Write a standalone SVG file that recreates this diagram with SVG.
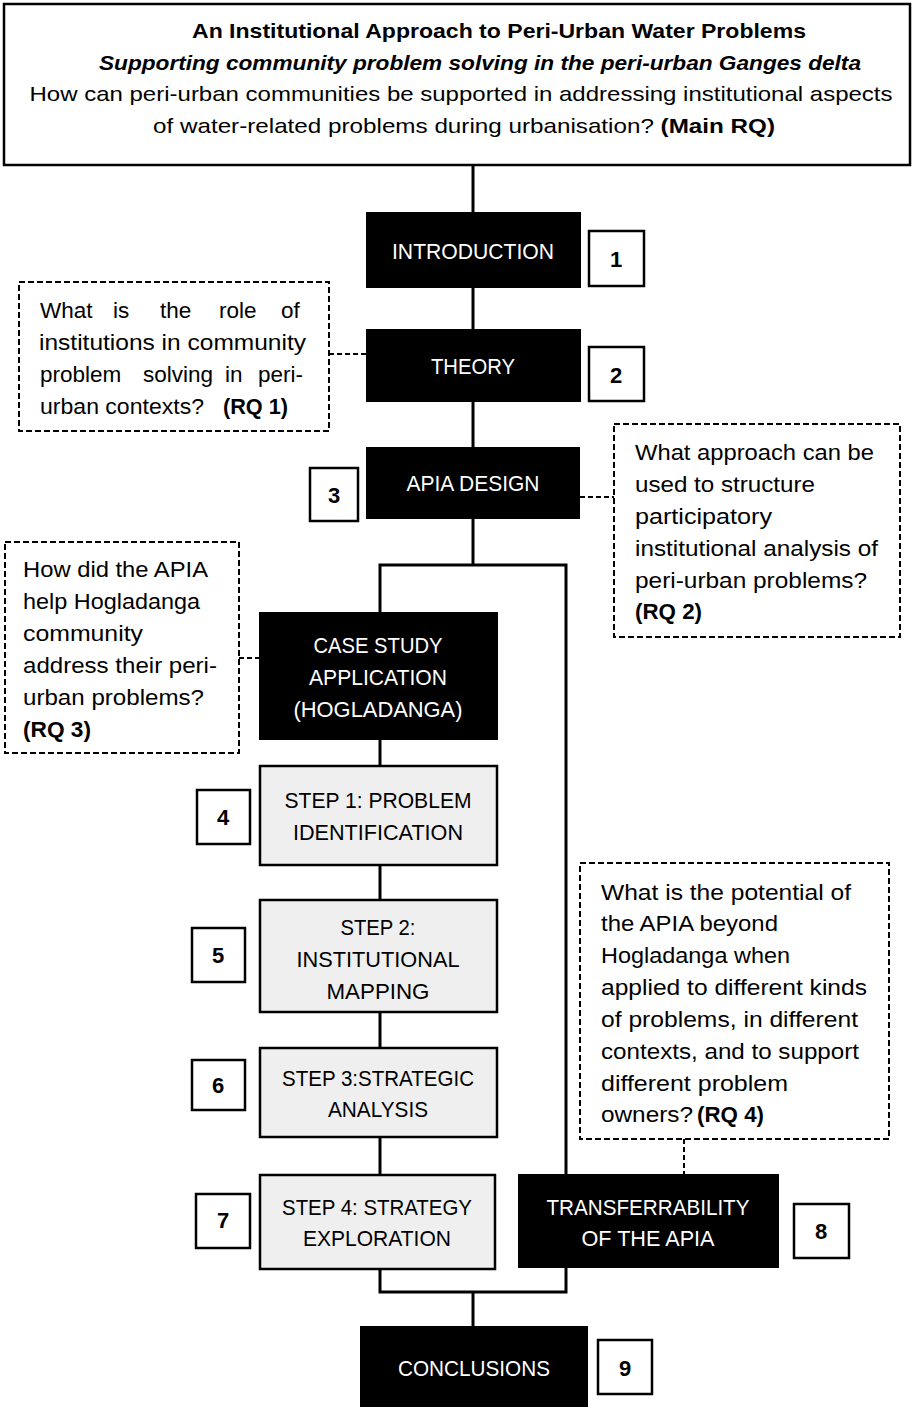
<svg xmlns="http://www.w3.org/2000/svg" width="913" height="1407" viewBox="0 0 913 1407">
  <style>
    text { font-family: "Liberation Sans", Arial, sans-serif; font-size: 22.5px; fill: #000; }
    .title { font-size: 21px; text-anchor: middle; }
    .b { font-weight: bold; }
    .it { font-style: italic; }
    .wl { fill: #fff; text-anchor: middle; font-size: 22.5px; }
    .sl { text-anchor: middle; font-size: 22.5px; }
    .num { font-weight: bold; text-anchor: middle; font-size: 22px; }
    .dark { fill: #000; }
    .step { fill: #efefef; stroke: #000; stroke-width: 2.5; }
    .nbox { fill: #fff; stroke: #000; stroke-width: 2.5; }
    .rq { fill: #fff; stroke: #000; stroke-width: 2; stroke-dasharray: 6 3; }
    .conn { fill: none; stroke: #000; stroke-width: 3; }
    .dconn { fill: none; stroke: #000; stroke-width: 2; stroke-dasharray: 5 3; }
  </style>

  <rect width="913" height="1407" fill="#fff"/>

  <!-- connectors -->
  <g id="connectors">
    <path class="conn" d="M473 166 V212 M473 288 V329 M473 402 V447 M473 519 V565"/>
    <path class="conn" d="M380 612 V565 H566 V1174"/>
    <path class="conn" d="M380 740 V766 M380 865 V900 M380 1012 V1048 M380 1137 V1175"/>
    <path class="conn" d="M380 1269 V1292 H566 V1268 M473 1292 V1326"/>
    <path class="dconn" d="M329 354 H366 M580 497 H614 M239 658 H259 M684 1139 V1174"/>
  </g>

  <!-- heading -->
  <g id="heading">
    <rect x="4" y="4" width="906" height="161" fill="#fff" stroke="#000" stroke-width="2.5"/>
    <text class="title b" x="499" y="38" textLength="614" lengthAdjust="spacingAndGlyphs">An Institutional Approach to Peri-Urban Water Problems</text>
    <text class="title b it" x="480" y="70" textLength="762" lengthAdjust="spacingAndGlyphs">Supporting community problem solving in the peri-urban Ganges delta</text>
    <text class="title" x="461" y="101" textLength="863" lengthAdjust="spacingAndGlyphs">How can peri-urban communities be supported in addressing institutional aspects</text>
    <text class="title" x="464" y="133" textLength="622" lengthAdjust="spacingAndGlyphs">of water-related problems during urbanisation? <tspan class="b">(Main RQ)</tspan></text>
  </g>

  <!-- chapter nodes -->
  <g id="introduction">
    <rect class="dark" x="366" y="212" width="215" height="76"/>
    <text class="wl" x="473" y="259" textLength="162" lengthAdjust="spacingAndGlyphs">INTRODUCTION</text>
  </g>
  <g id="ch1">
    <rect class="nbox" x="589" y="231" width="55" height="55"/>
    <text class="num" x="616" y="267">1</text>
  </g>

  <g id="theory">
    <rect class="dark" x="366" y="329" width="215" height="73"/>
    <text class="wl" x="473" y="374" textLength="84" lengthAdjust="spacingAndGlyphs">THEORY</text>
  </g>
  <g id="ch2">
    <rect class="nbox" x="589" y="347" width="55" height="54"/>
    <text class="num" x="616" y="383">2</text>
  </g>

  <g id="apia-design">
    <rect class="dark" x="366" y="447" width="214" height="72"/>
    <text class="wl" x="473" y="491" textLength="133" lengthAdjust="spacingAndGlyphs">APIA DESIGN</text>
  </g>
  <g id="ch3">
    <rect class="nbox" x="310" y="468" width="48" height="53"/>
    <text class="num" x="334" y="503">3</text>
  </g>

  <g id="case-study">
    <rect class="dark" x="259" y="612" width="239" height="128"/>
    <text class="wl" x="378" y="653" textLength="129" lengthAdjust="spacingAndGlyphs">CASE STUDY</text>
    <text class="wl" x="378" y="685" textLength="138" lengthAdjust="spacingAndGlyphs">APPLICATION</text>
    <text class="wl" x="378" y="717" textLength="169" lengthAdjust="spacingAndGlyphs">(HOGLADANGA)</text>
  </g>

  <g id="step1">
    <rect class="step" x="260" y="766" width="237" height="99"/>
    <text class="sl" x="378" y="808" textLength="187" lengthAdjust="spacingAndGlyphs">STEP 1: PROBLEM</text>
    <text class="sl" x="378" y="840" textLength="170" lengthAdjust="spacingAndGlyphs">IDENTIFICATION</text>
  </g>
  <g id="ch4">
    <rect class="nbox" x="197" y="790" width="53" height="54"/>
    <text class="num" x="223" y="825">4</text>
  </g>

  <g id="step2">
    <rect class="step" x="260" y="900" width="237" height="112"/>
    <text class="sl" x="378" y="935" textLength="75" lengthAdjust="spacingAndGlyphs">STEP 2:</text>
    <text class="sl" x="378" y="967" textLength="163" lengthAdjust="spacingAndGlyphs">INSTITUTIONAL</text>
    <text class="sl" x="378" y="999" textLength="103" lengthAdjust="spacingAndGlyphs">MAPPING</text>
  </g>
  <g id="ch5">
    <rect class="nbox" x="192" y="928" width="53" height="54"/>
    <text class="num" x="218" y="963">5</text>
  </g>

  <g id="step3">
    <rect class="step" x="260" y="1048" width="237" height="89"/>
    <text class="sl" x="378" y="1086" textLength="192" lengthAdjust="spacingAndGlyphs">STEP 3:STRATEGIC</text>
    <text class="sl" x="378" y="1117" textLength="100" lengthAdjust="spacingAndGlyphs">ANALYSIS</text>
  </g>
  <g id="ch6">
    <rect class="nbox" x="192" y="1060" width="53" height="50"/>
    <text class="num" x="218" y="1093">6</text>
  </g>

  <g id="step4">
    <rect class="step" x="260" y="1175" width="235" height="94"/>
    <text class="sl" x="377" y="1215" textLength="190" lengthAdjust="spacingAndGlyphs">STEP 4: STRATEGY</text>
    <text class="sl" x="377" y="1246" textLength="148" lengthAdjust="spacingAndGlyphs">EXPLORATION</text>
  </g>
  <g id="ch7">
    <rect class="nbox" x="196" y="1194" width="54" height="54"/>
    <text class="num" x="223" y="1228">7</text>
  </g>

  <g id="transferability">
    <rect class="dark" x="518" y="1174" width="261" height="94"/>
    <text class="wl" x="648" y="1215" textLength="203" lengthAdjust="spacingAndGlyphs">TRANSFERRABILITY</text>
    <text class="wl" x="648" y="1246" textLength="133" lengthAdjust="spacingAndGlyphs">OF THE APIA</text>
  </g>
  <g id="ch8">
    <rect class="nbox" x="794" y="1204" width="55" height="54"/>
    <text class="num" x="821" y="1239">8</text>
  </g>

  <g id="conclusions">
    <rect class="dark" x="360" y="1326" width="228" height="90"/>
    <text class="wl" x="474" y="1376" textLength="152" lengthAdjust="spacingAndGlyphs">CONCLUSIONS</text>
  </g>
  <g id="ch9">
    <rect class="nbox" x="598" y="1340" width="54" height="54"/>
    <text class="num" x="625" y="1376">9</text>
  </g>

  <!-- research questions -->
  <g id="rq1">
    <rect class="rq" x="19" y="282" width="310" height="149"/>
    <text y="318"><tspan x="40">What</tspan><tspan x="113">is</tspan><tspan x="160">the</tspan><tspan x="219">role</tspan><tspan x="281">of</tspan></text>
    <text x="39" y="350" textLength="267" lengthAdjust="spacingAndGlyphs">institutions in community</text>
    <text y="382"><tspan x="40">problem</tspan><tspan x="143">solving</tspan><tspan x="225">in</tspan><tspan x="258">peri-</tspan></text>
    <text y="414"><tspan x="40" textLength="164" lengthAdjust="spacingAndGlyphs">urban contexts?</tspan><tspan class="b" x="223" textLength="65" lengthAdjust="spacingAndGlyphs">(RQ 1)</tspan></text>
  </g>

  <g id="rq2">
    <rect class="rq" x="614" y="424" width="286" height="213"/>
    <text x="635" y="460" textLength="239" lengthAdjust="spacingAndGlyphs">What approach can be</text>
    <text x="635" y="492" textLength="180" lengthAdjust="spacingAndGlyphs">used to structure</text>
    <text x="635" y="524" textLength="137" lengthAdjust="spacingAndGlyphs">participatory</text>
    <text x="635" y="556" textLength="243" lengthAdjust="spacingAndGlyphs">institutional analysis of</text>
    <text x="635" y="588" textLength="232" lengthAdjust="spacingAndGlyphs">peri-urban problems?</text>
    <text class="b" x="635" y="619" textLength="67" lengthAdjust="spacingAndGlyphs">(RQ 2)</text>
  </g>

  <g id="rq3">
    <rect class="rq" x="5" y="542" width="234" height="211"/>
    <text x="23" y="577" textLength="185" lengthAdjust="spacingAndGlyphs">How did the APIA</text>
    <text x="23" y="609" textLength="177" lengthAdjust="spacingAndGlyphs">help Hogladanga</text>
    <text x="23" y="641" textLength="120" lengthAdjust="spacingAndGlyphs">community</text>
    <text x="23" y="673" textLength="194" lengthAdjust="spacingAndGlyphs">address their peri-</text>
    <text x="23" y="705" textLength="181" lengthAdjust="spacingAndGlyphs">urban problems?</text>
    <text class="b" x="23" y="737" textLength="68" lengthAdjust="spacingAndGlyphs">(RQ 3)</text>
  </g>

  <g id="rq4">
    <rect class="rq" x="580" y="863" width="309" height="276"/>
    <text x="601" y="900" textLength="250" lengthAdjust="spacingAndGlyphs">What is the potential of</text>
    <text x="601" y="931" textLength="177" lengthAdjust="spacingAndGlyphs">the APIA beyond</text>
    <text x="601" y="963" textLength="189" lengthAdjust="spacingAndGlyphs">Hogladanga when</text>
    <text x="601" y="995" textLength="266" lengthAdjust="spacingAndGlyphs">applied to different kinds</text>
    <text x="601" y="1027" textLength="257" lengthAdjust="spacingAndGlyphs">of problems, in different</text>
    <text x="601" y="1059" textLength="258" lengthAdjust="spacingAndGlyphs">contexts, and to support</text>
    <text x="601" y="1091" textLength="187" lengthAdjust="spacingAndGlyphs">different problem</text>
    <text x="601" y="1122"><tspan textLength="92" lengthAdjust="spacingAndGlyphs">owners?</tspan><tspan class="b" x="697" textLength="67" lengthAdjust="spacingAndGlyphs">(RQ 4)</tspan></text>
  </g>
</svg>
